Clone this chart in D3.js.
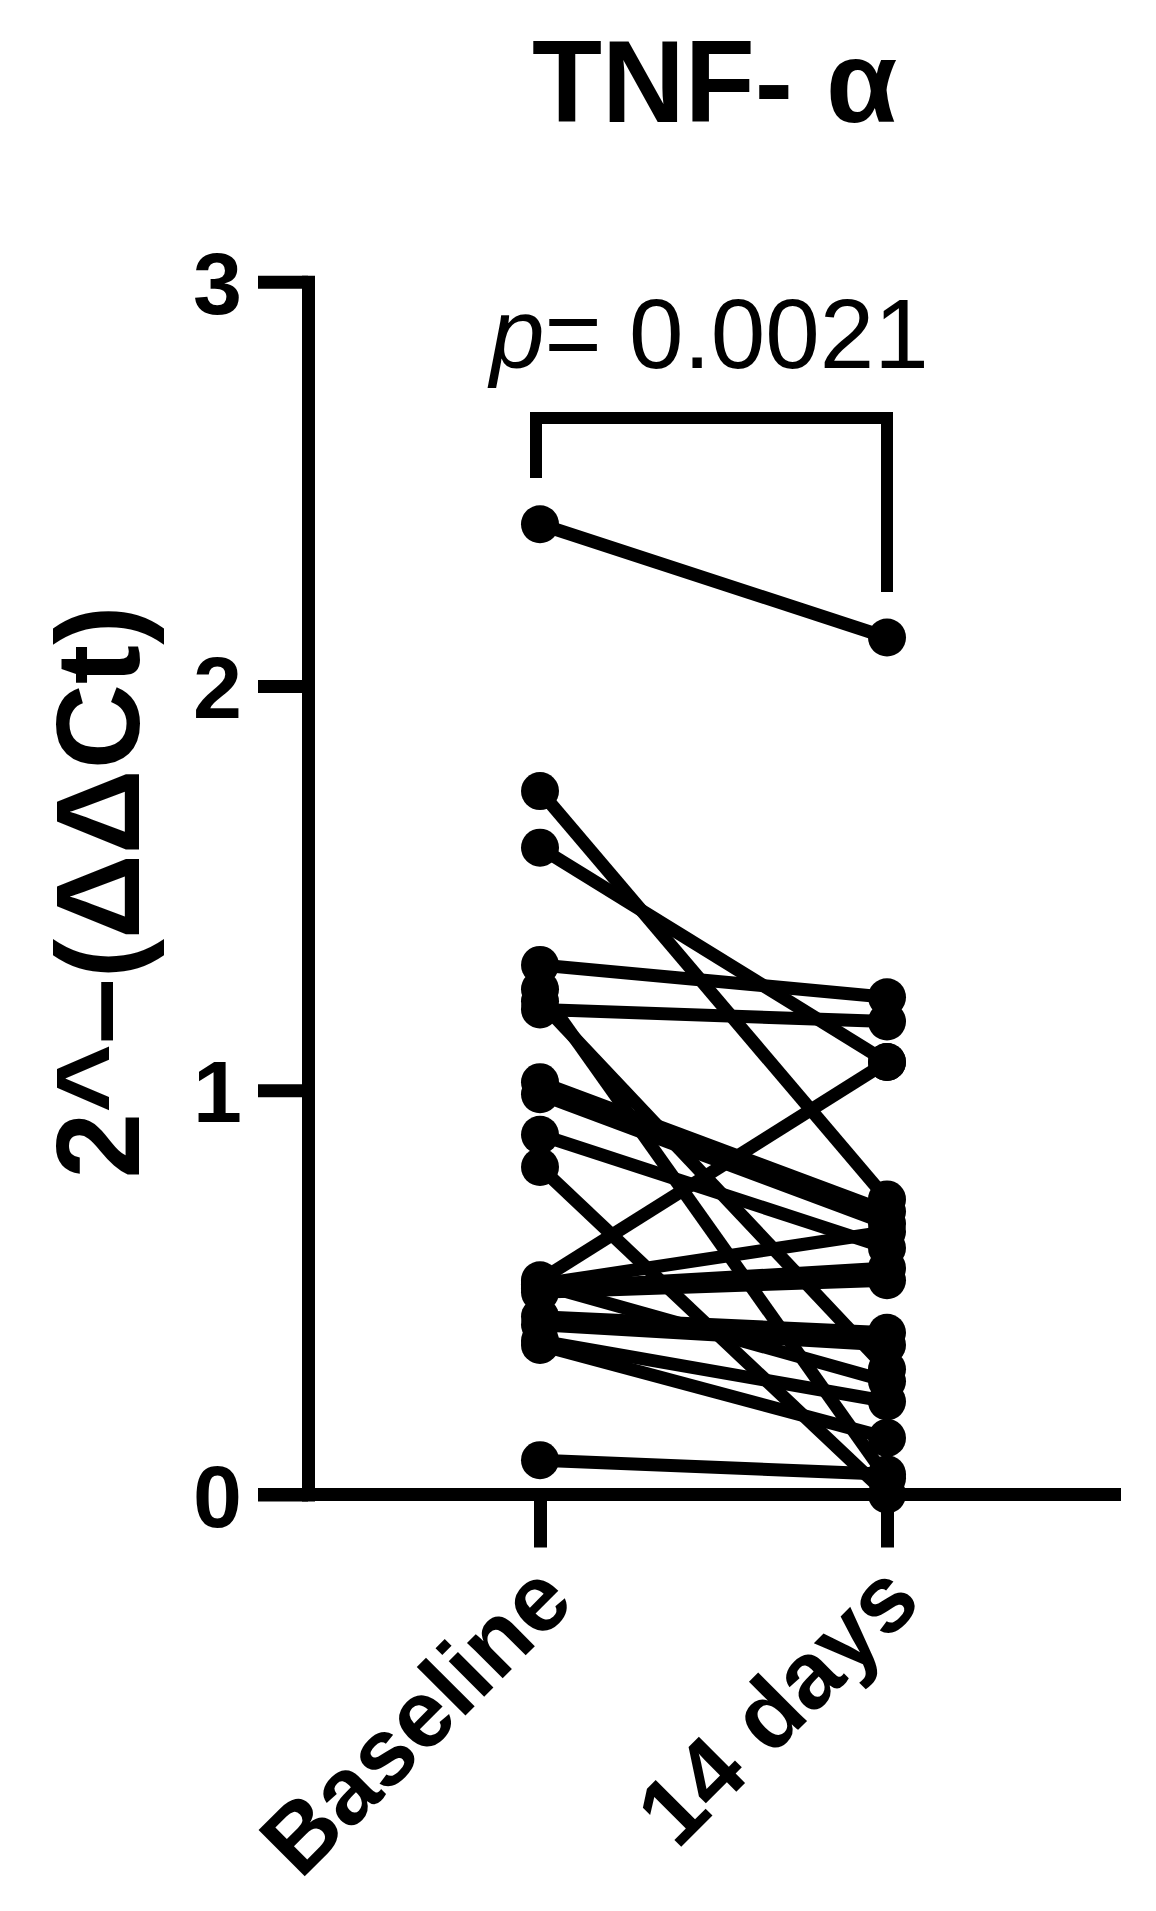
<!DOCTYPE html>
<html>
<head>
<meta charset="utf-8">
<script src="https://cdn.jsdelivr.net/npm/d3@7"></script>
<style>
  html, body { margin: 0; padding: 0; background: #fff; }
  svg { display: block; }
  text { font-family: "Liberation Sans", Arial, sans-serif; fill: #000; }
</style>
</head>
<body>
<script>
// ---- Data ----
const groups = ["Baseline", "14 days"];
const baselineValues = [2.40, 1.74, 1.60, 1.31, 1.25, 1.20, 1.22, 1.02, 0.99, 0.89, 0.81,
                        0.53, 0.52, 0.51, 0.50, 0.52, 0.44, 0.42, 0.38, 0.37, 0.085];
const day14Values    = [2.12, 0.73, 1.07, 1.23, 0.04, 1.17, 0.31, 0.70, 0.67, 0.61, 0.00,
                        1.07, 0.65, 0.56, 0.53, 0.28, 0.40, 0.37, 0.23, 0.14, 0.05];
const yTicks = [0, 1, 2, 3];
const titleMain = "TNF-";
const titleGreek = "α";
const yLabel = "2^–(ΔΔCt)";
const pLabel = "= 0.0021";

// ---- Layout ----
const W = 1156, H = 1911;
const svg = d3.select("body").append("svg").attr("width", W).attr("height", H);

const y = d3.scaleLinear().domain([0, 3]).range([1494.5, 281.7]);
const x = d3.scalePoint().domain(groups).range([540, 887]);
const axisX = 308;
const axisW = 13;

// Title
const title = svg.append("text").attr("y", 122)
  .attr("font-size", 116).attr("font-weight", "bold");
title.append("tspan").attr("x", 532)
  .attr("textLength", 261).attr("lengthAdjust", "spacingAndGlyphs")
  .text(titleMain);
title.append("tspan").attr("x", 826).text(titleGreek);

// Y axis
const yAxis = d3.axisLeft(y).tickValues(yTicks).tickSize(50).tickSizeOuter(0).tickPadding(16)
  .tickFormat(d3.format("d"));
const gy = svg.append("g").attr("transform", `translate(${axisX},0)`).call(yAxis);
gy.select(".domain").attr("stroke", "#000").attr("stroke-width", axisW).attr("stroke-linecap", "square");
gy.selectAll(".tick line").attr("stroke", "#000").attr("stroke-width", axisW);
gy.selectAll(".tick text").attr("font-size", 88).attr("font-weight", "bold")
  .attr("font-family", "'Liberation Sans', Arial, sans-serif").attr("dy", "0.36em");

// X axis
const xAxis = d3.axisBottom(x).tickSize(53).tickSizeOuter(0).tickPadding(0);
const gx = svg.append("g").attr("transform", `translate(0,${y(0)})`).call(xAxis);
gx.select(".domain").remove();
gx.append("line").attr("x1", 258).attr("x2", 1121).attr("y1", 0).attr("y2", 0)
  .attr("stroke", "#000").attr("stroke-width", axisW);
gx.selectAll(".tick line").attr("stroke", "#000").attr("stroke-width", axisW);
gx.selectAll(".tick text")
  .attr("font-size", 95).attr("font-weight", "bold")
  .attr("font-family", "'Liberation Sans', Arial, sans-serif")
  .attr("text-anchor", "end").attr("dy", null).attr("y", null)
  .attr("transform", "translate(36,110) rotate(-45)");

// Y axis title
svg.append("text")
  .attr("transform", `translate(139,${892}) rotate(-90)`)
  .attr("text-anchor", "middle")
  .attr("font-size", 118).attr("font-weight", "bold")
  .text(yLabel);

// Pair lines
const pairs = baselineValues.map((b, i) => [b, day14Values[i]]);
svg.append("g").selectAll("line").data(pairs).join("line")
  .attr("x1", x(groups[0])).attr("x2", x(groups[1]))
  .attr("y1", d => y(d[0])).attr("y2", d => y(d[1]))
  .attr("stroke", "#000").attr("stroke-width", 13);

// Points
const pts = svg.append("g");
pts.selectAll("circle.b").data(baselineValues).join("circle").attr("class", "b")
  .attr("cx", x(groups[0])).attr("cy", d => y(d)).attr("r", 19).attr("fill", "#000");
pts.selectAll("circle.d").data(day14Values).join("circle").attr("class", "d")
  .attr("cx", x(groups[1])).attr("cy", d => y(d)).attr("r", 19).attr("fill", "#000");

// Significance bracket
const bx1 = x(groups[0]) - 4, bx2 = x(groups[1]);
const bTop = 418;
svg.append("path")
  .attr("d", `M${bx1},478 V${bTop} H${bx2} V592`)
  .attr("fill", "none").attr("stroke", "#000").attr("stroke-width", 12)
  .attr("stroke-linejoin", "miter");

const pt = svg.append("text").attr("x", 490).attr("y", 368).attr("font-size", 98);
pt.append("tspan").attr("font-style", "italic").text("p");
pt.append("tspan").text(pLabel);
</script>
</body>
</html>
